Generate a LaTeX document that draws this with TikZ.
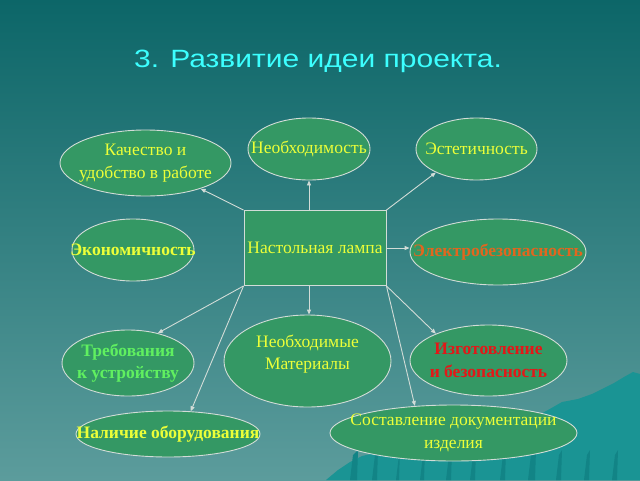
\documentclass[tikz,border=0pt]{standalone}
\usepackage{fontspec}
\setmainfont{Liberation Serif}
\newfontfamily\titlefont[FakeStretch=1.2]{Liberation Sans}
\usetikzlibrary{shapes.geometric,arrows.meta,calc}
\definecolor{bgtop}{RGB}{12,102,104}
\definecolor{bgbot}{RGB}{92,156,156}
\definecolor{mnt}{RGB}{26,148,148}
\definecolor{mntdark}{RGB}{18,132,134}
\definecolor{elfill}{RGB}{52,152,100}
\definecolor{elline}{RGB}{210,220,215}
\definecolor{txtyel}{RGB}{236,255,56}
\definecolor{txtorg}{RGB}{226,102,30}
\definecolor{txtred}{RGB}{226,24,24}
\definecolor{txtgrn}{RGB}{96,240,96}
\definecolor{ttlcyan}{RGB}{60,255,255}
\tikzset{
  oval/.style={ellipse, draw=elline, line width=0.9pt, fill=elfill, inner sep=0pt},
  txt/.style={align=center, text=txtyel, inner sep=0pt, font=\fontsize{17.5}{22.5}\selectfont},
  boldtxt/.style={txt, font=\fontsize{17.5}{22.5}\selectfont\bfseries},
  conn/.style={draw=elline, line width=0.9pt, -{Triangle[length=5pt,width=4pt]}},
}
\begin{document}
\begin{tikzpicture}[x=1pt,y=-1pt]
\useasboundingbox (0,0) rectangle (640,480);
% background
\shade[top color=bgtop, bottom color=bgbot] (0,0) rectangle (640,480);
% mountains
\fill[mnt] (326,480) -- (338,470) -- (350,462) -- (362,456) -- (380,452) -- (420,448) -- (470,440) -- (520,425) -- (548,410) -- (562,402) -- (578,399) -- (592,394) -- (604,388) -- (614,383) -- (624,377) -- (633,372) -- (640,374) -- (640,480) -- cycle;
\foreach \xa/\xb in {350/358,372/378,396/400,420/425,446/452,470/476,500/506,528/536,556/562,584/590,612/618} {
  \fill[mntdark] (\xa,480) -- (\xa+3,455) -- (\xb,450) -- (\xb-1,480) -- cycle;
}
% title
\node (title) [text=ttlcyan, font=\titlefont\fontsize{25}{29}\selectfont] at (318,61) {3. Развитие идеи проекта.};
% central node
\node (lamp) [draw=elline, line width=0.9pt, fill=elfill, minimum width=142pt, minimum height=75pt, inner sep=0pt, txt] at (315,248) {Настольная лампа};
% ellipses
\node (kach) [oval, minimum width=171pt, minimum height=66pt, label={[txt]center:Качество и\\удобство в работе}] at (145.5,163) {};
\node (neob) [oval, minimum width=122pt, minimum height=62pt, label={[txt]center:Необходимость}] at (309,149) {};
\node (est)  [oval, minimum width=121pt, minimum height=62pt, label={[txt]center:Эстетичность}] at (476.5,149) {};
\node (econ) [oval, minimum width=122pt, minimum height=62pt, label={[boldtxt]center:Экономичность}] at (133,250) {};
\node (elec) [oval, minimum width=176pt, minimum height=66pt, label={[boldtxt, text=txtorg]center:Электробезопасность}] at (498,252) {};
\node (treb) [oval, minimum width=132pt, minimum height=66pt, label={[boldtxt, text=txtgrn]center:Требования\\к устройству}] at (128,363) {};
\node (mat)  [oval, minimum width=167pt, minimum height=92pt, label={[txt, yshift=7pt]center:Необходимые\\Материалы}] at (307.5,361) {};
\node (izg)  [oval, minimum width=157pt, minimum height=71pt, label={[boldtxt, text=txtred]center:Изготовление\\и безопасность}] at (488.5,360.5) {};
\node (nal)  [oval, minimum width=184pt, minimum height=46pt, label={[boldtxt]center:Наличие оборудования}] at (168,434) {};
\node (sost) [oval, minimum width=247pt, minimum height=56pt, label={[txt]center:Составление документации\\изделия}] at (453.5,433) {};
% connectors
\draw[conn] (lamp.north west) -- (kach.-25);
\draw[conn] (lamp.north -| neob.south) -- (neob.south);
\draw[conn] (lamp.north east) -- (est.210);
\draw[conn] (lamp.east) -- (lamp.east -| elec.west);
\draw[conn] (lamp.south -| neob.south) -- (mat.north -| neob.south);
\draw[conn] (lamp.south west) -- (treb.45);
\draw[conn] (lamp.south west) -- (nal.45);
\draw[conn] (lamp.south east) -- (izg.153);
\draw[conn] (lamp.south east) -- (sost.145);
\end{tikzpicture}
\end{document}
